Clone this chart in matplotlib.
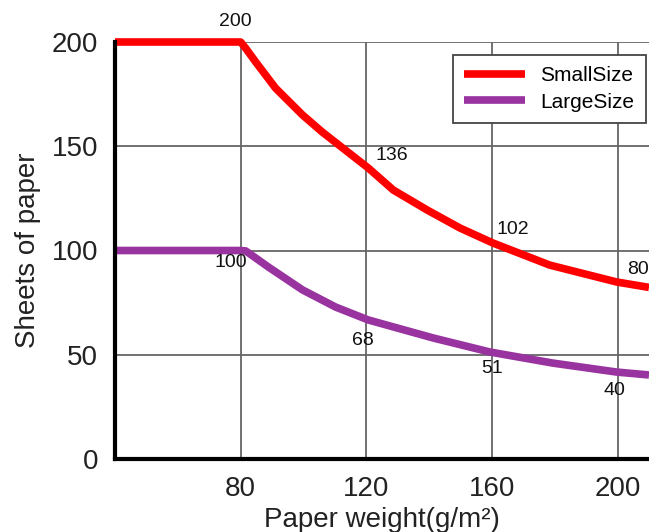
import matplotlib
matplotlib.use("Agg")
import matplotlib.pyplot as plt

# Data
small_x = [40, 80, 81.6, 84.8, 91.1, 99.7, 106, 113.3, 120.6, 128.6, 139.4,
           149.8, 160.3, 178.4, 199.7, 210]
small_y = [200, 200, 197, 190.4, 177.9, 165, 156.8, 148.2, 139.6, 129, 119.4,
           110.8, 103.6, 93, 84.9, 82.3]
large_x = [40, 80, 81.6, 88.9, 99.7, 110.2, 120.6, 141.4, 159.4, 179.4, 199.7, 210]
large_y = [100, 100, 99.8, 92, 81.1, 72.9, 66.7, 58, 51.3, 46, 41.7, 40.3]

label_x = [80, 120, 160, 200]
small_labels = ["200", "136", "102", "80"]
small_label_at = [200, 141, 103, 85]
large_labels = ["100", "68", "51", "40"]
large_label_at = [101, 67.6, 51.3, 41.7]

x_ticks = [80, 120, 160, 200]
y_ticks = [0, 50, 100, 150, 200]

# Label offsets in pixels (position only)
small_off = [(-5, 21), (26, 10), (21, 15), (20, 12)]
large_off = [(-10, -14), (-3, -22), (0, -16), (-3, -18)]

plt.rcParams['font.family'] = ['Liberation Sans', 'DejaVu Sans']

fig = plt.figure(figsize=(6.49, 5.32), dpi=100)
ax = fig.add_axes([115/649, 1 - 459/532, 1 - 115/649, (459 - 42)/532])

red = '#ff0000'
purple = '#9933a0'

ax.plot(small_x, small_y, color=red, lw=5.5, clip_on=False, zorder=4,
        solid_capstyle='butt', solid_joinstyle='round', label='SmallSize')
ax.plot(large_x, large_y, color=purple, lw=5.5, clip_on=False, zorder=4,
        solid_capstyle='butt', solid_joinstyle='round', label='LargeSize')

ax.set_xlim(40, 210)
ax.set_ylim(0, 200)
ax.set_xticks(x_ticks)
ax.set_yticks(y_ticks)
ax.tick_params(length=0, labelsize=20, colors='#222222', pad=12)
ax.grid(True, color='#666666', lw=1.3)
ax.set_axisbelow(True)

for s in ['top', 'right']:
    ax.spines[s].set_visible(False)
for s in ['left', 'bottom']:
    ax.spines[s].set_color('black')
    ax.spines[s].set_linewidth(3)
    ax.spines[s].set_zorder(5)

ax.set_xlabel('Paper weight(g/m²)', fontsize=20, color='#222222', labelpad=4)
ax.set_ylabel('Sheets of paper', fontsize=20, color='#222222', labelpad=8)

for x, t, y, off in zip(label_x, small_labels, small_label_at, small_off):
    ax.annotate(t, xy=(x, y), xytext=off, textcoords='offset pixels',
                ha='center', va='center', fontsize=14, color='#111111',
                zorder=6, annotation_clip=False)
for x, t, y, off in zip(label_x, large_labels, large_label_at, large_off):
    ax.annotate(t, xy=(x, y), xytext=off, textcoords='offset pixels',
                ha='center', va='center', fontsize=14, color='#111111',
                zorder=6, annotation_clip=False)

leg = ax.legend(loc='upper right', bbox_to_anchor=(646/649, 1 - 55/532),
                bbox_transform=fig.transFigure,
                fontsize=15, frameon=True, fancybox=False, framealpha=1,
                edgecolor='#444444', handlelength=2.9, handletextpad=0.75,
                borderpad=0.55, labelspacing=0.35, borderaxespad=0)
leg.get_frame().set_linewidth(1.3)
leg.set_zorder(7)

fig.savefig('out.png', dpi=100)
